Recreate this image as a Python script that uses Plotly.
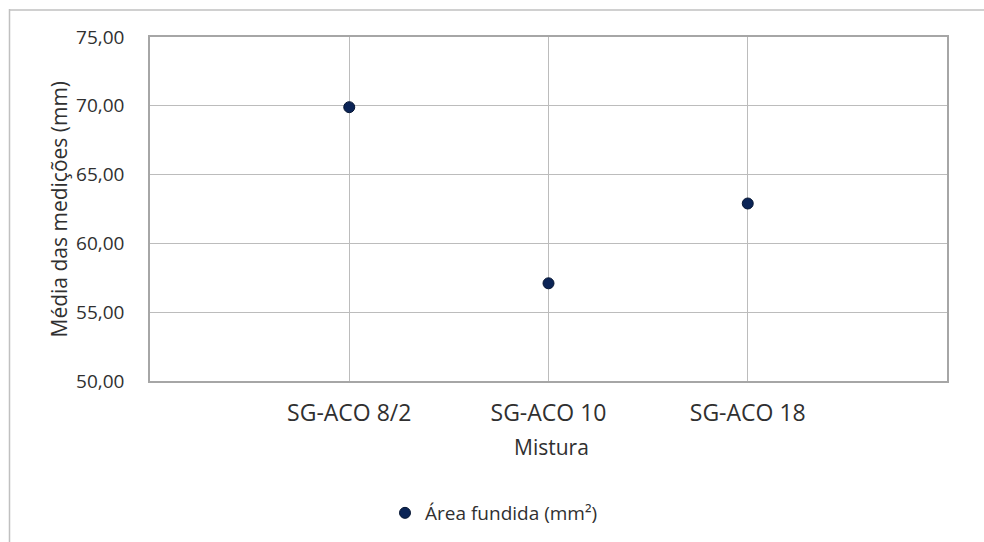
import plotly.graph_objects as go

categories = ["SG-ACO 8/2", "SG-ACO 10", "SG-ACO 18"]
positions = [1, 2, 3]
values = [69.9, 57.1, 62.9]
series_name = "Área fundida (mm²)"
y_ticks = [50, 55, 60, 65, 70, 75]

W, H = 984, 542
ML, MR, MT, MB = 150, 37, 37, 160
PW, PH = W - ML - MR, H - MT - MB

def px(x):
    return (x - ML) / PW

def py(y):
    return (H - MB - y) / PH

text_color = "#303030"
font_family = "Open Sans"

fig = go.Figure()
fig.add_trace(go.Scatter(
    x=positions, y=values, mode="markers", name=series_name,
    marker=dict(size=11, color="#0b2456", line=dict(color="#061633", width=1)),
    showlegend=True,
))

fig.update_layout(
    width=W, height=H, autosize=False,
    margin=dict(l=ML, r=MR, t=MT, b=MB, pad=0),
    paper_bgcolor="white", plot_bgcolor="white",
    separators=",.",
    font=dict(family=font_family, color=text_color),
    showlegend=True,
    legend=dict(
        orientation="h", x=px(385), y=py(513), xanchor="left", yanchor="middle",
        font=dict(size=19, color=text_color, family=font_family),
        bgcolor="rgba(0,0,0,0)", borderwidth=0,
    ),
    xaxis=dict(
        range=[0, 4], tickmode="array", tickvals=positions, ticktext=categories,
        showgrid=True, gridcolor="#bcbcbc", gridwidth=1.3,
        showline=True, linecolor="#a6a6a6", linewidth=1.6, mirror=True,
        zeroline=False, ticks="", ticklabelstandoff=11,
        tickfont=dict(size=23, color=text_color, family=font_family),
        fixedrange=True,
    ),
    yaxis=dict(
        range=[50, 75], tickmode="array", tickvals=y_ticks, tickformat=".2f",
        showgrid=True, gridcolor="#bcbcbc", gridwidth=1.3,
        showline=True, linecolor="#a6a6a6", linewidth=1.6, mirror=True,
        zeroline=False, ticks="", ticklabelstandoff=20,
        tickfont=dict(size=19, color=text_color, family=font_family),
        fixedrange=True,
    ),
    annotations=[
        dict(text="Mistura", xref="paper", yref="paper", x=px(551), y=py(448),
             xanchor="center", yanchor="middle", showarrow=False,
             font=dict(size=21, color=text_color, family=font_family)),
        dict(text="Média das medições (mm)", xref="paper", yref="paper",
             x=px(59), y=py(210), textangle=-90,
             xanchor="center", yanchor="middle", showarrow=False,
             font=dict(size=21, color=text_color, family=font_family)),
    ],
    shapes=[
        dict(type="line", xref="paper", yref="paper",
             x0=px(9.5), x1=px(9.5), y0=py(9), y1=py(560),
             line=dict(color="#c0c0c0", width=1.5)),
        dict(type="line", xref="paper", yref="paper",
             x0=px(9), x1=px(1000), y0=py(10), y1=py(10),
             line=dict(color="#c0c0c0", width=1.5)),
    ],
)

fig.write_html("out.html")
